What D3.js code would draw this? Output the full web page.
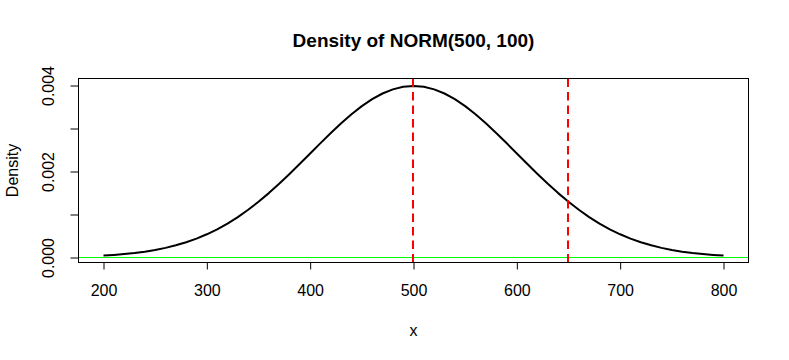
<!DOCTYPE html>
<html><head><meta charset="utf-8">
<script src="https://cdn.jsdelivr.net/npm/d3@7"></script>
<style>body{margin:0;background:#fff}svg{display:block}text{font-family:"Liberation Sans",Arial,sans-serif;fill:#000}</style>
</head><body><svg id="c" width="789" height="360"></svg>
<script>
// data
const xValues = d3.range(200, 801, 10);
const densities = [
0.0000443,0.0000595,0.0000792,0.0001042,0.0001358,0.0001753,0.0002239,0.0002833,0.0003547,0.0004398,
0.0005399,0.0006562,0.0007895,0.0009405,0.0011092,0.0012952,0.0014973,0.0017137,0.0019419,0.0021785,
0.0024197,0.0026609,0.0028969,0.0031225,0.0033322,0.0035207,0.0036827,0.0038139,0.0039104,0.0039695,
0.0039894,
0.0039695,0.0039104,0.0038139,0.0036827,0.0035207,0.0033322,0.0031225,0.0028969,0.0026609,0.0024197,
0.0021785,0.0019419,0.0017137,0.0014973,0.0012952,0.0011092,0.0009405,0.0007895,0.0006562,0.0005399,
0.0004398,0.0003547,0.0002833,0.0002239,0.0001753,0.0001358,0.0001042,0.0000792,0.0000595,0.0000443];
const xTicks = [200,300,400,500,600,700,800];
const yTicks = [0,0.001,0.002,0.003,0.004];
const yTickLabels = ["0.000","","0.002","","0.004"];
const vLines = [500,650];
const hLines = [0];
const titleText = "Density of NORM(500, 100)";
const xLabel = "x", yLabel = "Density";

const svg = d3.select("#c");
const L=78.5, R=748.5, T=78.5, B=262.5;
const x = d3.scaleLinear().domain([200,800]).range([103.5,723.5]);
const y = d3.scaleLinear().domain([0,0.004]).range([257.5,85.5]);
const FS = "16px";

svg.append("clipPath").attr("id","pc").append("rect").attr("x",L).attr("y",T).attr("width",R-L).attr("height",B-T);
const plot = svg.append("g").attr("clip-path","url(#pc)");

// horizontal reference line
plot.selectAll(".h").data(hLines).join("line")
 .attr("x1",L).attr("x2",R).attr("y1",d=>y(d)).attr("y2",d=>y(d))
 .attr("stroke","#00ff00").attr("stroke-width",1);

// curve
const pts = xValues.map((v,i)=>[v,densities[i]]);
plot.append("path").datum(pts)
 .attr("d",d3.line().x(d=>x(d[0])).y(d=>y(d[1])))
 .attr("fill","none").attr("stroke","#000").attr("stroke-width",2).attr("stroke-linejoin","round");

// vertical dashed lines (drawn bottom to top)
plot.selectAll(".v").data(vLines).join("line")
 .attr("x1",d=>x(d)-0.5).attr("x2",d=>x(d)-0.5).attr("y1",B).attr("y2",T-2)
 .attr("stroke","#ff0000").attr("stroke-width",2).attr("stroke-dasharray","8.5,5");

// box
svg.append("rect").attr("x",L).attr("y",T).attr("width",R-L).attr("height",B-T)
 .attr("fill","none").attr("stroke","#000").attr("stroke-width",1);

// x axis
const xa = svg.append("g").attr("transform",`translate(0,${B})`)
 .call(d3.axisBottom(x).tickValues(xTicks).tickSize(7).tickPadding(15).tickFormat(d3.format("d")));
xa.select(".domain").attr("d",`M${x(200)},0H${x(800)}`);
xa.selectAll("text").attr("font-size",FS).attr("font-family","Liberation Sans, Arial, sans-serif");

// y axis
const ya = svg.append("g").attr("transform",`translate(${L},0)`)
 .call(d3.axisLeft(y).tickValues(yTicks).tickSize(8).tickFormat((d,i)=>yTickLabels[i]));
ya.select(".domain").attr("d",`M0,${y(0)}V${y(0.004)}`);
ya.selectAll("text").attr("font-size",FS).attr("font-family","Liberation Sans, Arial, sans-serif")
 .attr("text-anchor","middle").attr("dy",null).attr("x",null)
 .attr("transform","translate(-30,0) rotate(-90)").attr("dy","0.35em");

// title and axis labels
svg.append("text").attr("x",(L+R)/2).attr("y",47).attr("text-anchor","middle")
 .attr("font-size","19px").attr("font-weight","bold").text(titleText);
svg.append("text").attr("x",(L+R)/2).attr("y",336).attr("text-anchor","middle")
 .attr("font-size",FS).text(xLabel);
svg.append("text").attr("transform",`translate(18,${(T+B)/2}) rotate(-90)`).attr("text-anchor","middle")
 .attr("font-size",FS).text(yLabel);
</script></body></html>
